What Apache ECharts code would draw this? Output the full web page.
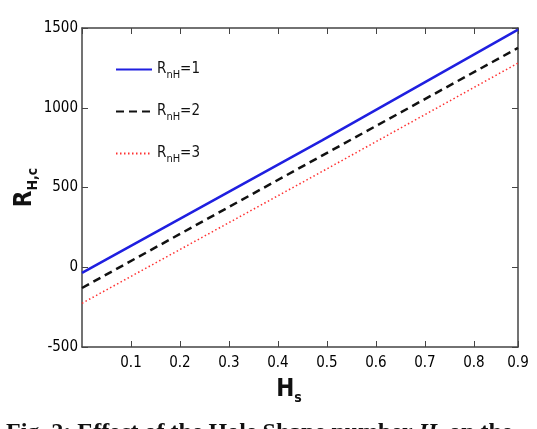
<!DOCTYPE html>
<html>
  <head>
    <meta charset="utf-8">
    <title>R_H,c vs H_s</title>
    <style>
      html, body { margin: 0; padding: 0; background: #fff; }
    </style>
  </head>
  <body>
    <div id="main" style="width: 537px;height:429px;"></div>
    <script src="https://cdn.jsdelivr.net/npm/echarts@6/dist/echarts.min.js"></script>
    <script type="text/javascript">

        // values
        var hs = [0.01, 0.5, 0.9];
        var rnh1 = [-35, 795, 1490];
        var rnh2 = [-130, 700, 1375];
        var rnh3 = [-226, 600, 1280];
        var seriesNames = ['R_nH=1', 'R_nH=2', 'R_nH=3'];
        var yTicks = [-500, 0, 500, 1000, 1500];

        var narrow = "'DejaVu Sans Condensed', 'Liberation Sans Narrow', 'Liberation Sans', sans-serif";
        var axisColor = '#444';

        function pairs(ys) {
          return hs.map(function(x, i) { return [x, ys[i]]; });
        }

        var myChart = echarts.init(document.getElementById('main'));

        var legendRich = {
          r: { fontSize: 15, fontFamily: narrow, color: '#111' },
          sub: { fontSize: 11, fontFamily: narrow, color: '#111', padding: [12, 0, 0, 0] }
        };

        myChart.setOption({
            animation: false,
            grid: { left: 82, right: 19, top: 28, bottom: 82 },
            legend: {
                orient: 'vertical',
                left: 110,
                top: 57,
                itemWidth: 36,
                itemHeight: 14,
                itemGap: 23,
                data: seriesNames,
                itemStyle: { color: 'rgba(0,0,0,0)', borderWidth: 0 },
                formatter: function(name) {
                  var p = name.split('_')[1].split('=');
                  return '{r|R}{sub|' + p[0] + '}{r|=' + p[1] + '}';
                },
                textStyle: { rich: legendRich }
            },
            xAxis: [{
                type: 'value',
                min: 0.01,
                max: 0.9,
                interval: 0.1,
                name: '{b|H}{s|s}',
                nameLocation: 'middle',
                nameGap: 28,
                nameTextStyle: {
                  padding: [0, 22, 0, 0],
                  rich: {
                    b: { fontSize: 24, fontWeight: 'bold', fontFamily: narrow, color: '#111' },
                    s: { fontSize: 14, fontWeight: 'bold', fontFamily: narrow, color: '#111', padding: [16, 0, 0, 0] }
                  }
                },
                axisLine: { onZero: false, lineStyle: { color: axisColor, width: 1.5 } },
                axisTick: { inside: true, length: 6, lineStyle: { color: axisColor } },
                axisLabel: {
                  showMinLabel: false,
                  margin: 9,
                  fontSize: 15,
                  fontFamily: narrow,
                  color: '#000',
                  formatter: function(v) { return v.toFixed(1); }
                },
                splitLine: { show: false }
            }, {
                type: 'value',
                position: 'top',
                min: 0.01,
                max: 0.9,
                interval: 0.1,
                axisLine: { onZero: false, lineStyle: { color: axisColor, width: 1.5 } },
                axisTick: { inside: true, length: 6, lineStyle: { color: axisColor } },
                axisLabel: { show: false },
                splitLine: { show: false }
            }],
            yAxis: [{
                type: 'value',
                min: yTicks[0],
                max: yTicks[yTicks.length - 1],
                interval: 500,
                name: '{b|R}{s|H,c}',
                nameLocation: 'middle',
                nameRotate: 90,
                nameGap: 42,
                nameMoveOverlap: false,
                nameTextStyle: {
                  rich: {
                    b: { fontSize: 24, fontWeight: 'bold', fontFamily: narrow, color: '#111' },
                    s: { fontSize: 14, fontWeight: 'bold', fontFamily: narrow, color: '#111', padding: [16, 0, 0, 0] }
                  }
                },
                axisLine: { onZero: false, lineStyle: { color: axisColor, width: 1.5 } },
                axisTick: { inside: true, length: 6, lineStyle: { color: axisColor } },
                axisLabel: {
                  fontSize: 15,
                  fontFamily: narrow,
                  color: '#000',
                  margin: 4,
                  formatter: function(v) { return String(v); }
                },
                splitLine: { show: false }
            }, {
                type: 'value',
                position: 'right',
                min: yTicks[0],
                max: yTicks[yTicks.length - 1],
                interval: 500,
                axisLine: { onZero: false, lineStyle: { color: axisColor, width: 1.5 } },
                axisTick: { inside: true, length: 6, lineStyle: { color: axisColor } },
                axisLabel: { show: false },
                splitLine: { show: false }
            }],
            graphic: [{
                type: 'text',
                left: 6,
                top: 421,
                style: {
                  text: '{n|Fig. 2: Effect of the Hole Shape number }{i|H}{s|s}{n| on the}',
                  rich: {
                    n: { font: 'bold 24px "Liberation Serif", serif', fill: '#111' },
                    i: { font: 'italic bold 24px "Liberation Serif", serif', fill: '#111' },
                    s: { font: 'italic bold 15px "Liberation Serif", serif', fill: '#111', padding: [14, 0, 0, 0] }
                  }
                }
            }],
            series: [{
                name: seriesNames[0],
                type: 'line',
                showSymbol: false,
                symbol: 'none',
                data: pairs(rnh1),
                lineStyle: { color: '#1f1fe0', width: 2.5, type: 'solid' },
                itemStyle: { color: '#1f1fe0' }
            }, {
                name: seriesNames[1],
                type: 'line',
                showSymbol: false,
                symbol: 'none',
                data: pairs(rnh2),
                lineStyle: { color: '#111', width: 2.5, type: [8, 5] },
                itemStyle: { color: '#111' }
            }, {
                name: seriesNames[2],
                type: 'line',
                showSymbol: false,
                symbol: 'none',
                data: pairs(rnh3),
                lineStyle: { color: '#ff3030', width: 1.5, type: [1.5, 2.5] },
                itemStyle: { color: '#ff3030' }
            }]
        });
    </script>
  </body>
</html>
